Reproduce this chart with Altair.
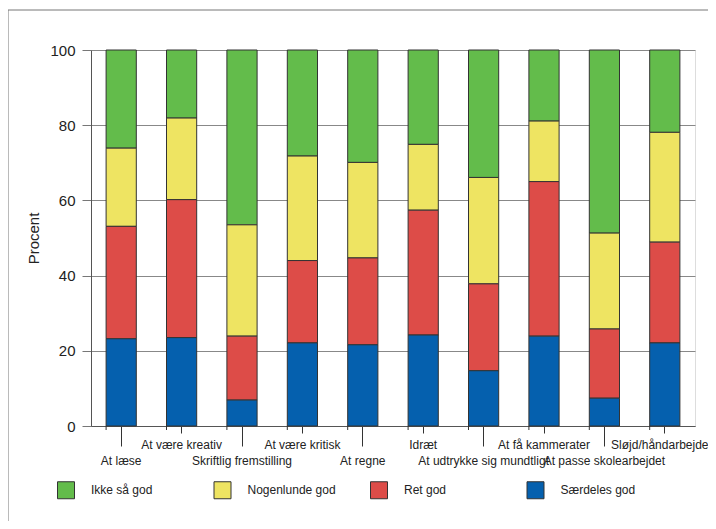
import altair as alt
import pandas as pd

categories = ["At læse", "At være kreativ", "Skriftlig fremstilling", "At være kritisk",
              "At regne", "Idræt", "At udtrykke sig mundtligt", "At få kammerater",
              "At passe skolearbejdet", "Sløjd/håndarbejde"]
saerdeles_god = [23.2, 23.5, 6.9, 22.1, 21.6, 24.2, 14.7, 23.9, 7.4, 22.1]
ret_god = [29.9, 36.7, 17.0, 21.9, 23.1, 33.2, 23.1, 41.1, 18.4, 26.8]
nogenlunde_god = [20.8, 21.7, 29.6, 27.8, 25.4, 17.5, 28.3, 16.1, 25.5, 29.2]
ikke_saa_god = [26.1, 18.1, 46.5, 28.2, 29.9, 25.1, 33.9, 18.9, 48.7, 21.9]

series_names = ["Ikke så god", "Nogenlunde god", "Ret god", "Særdeles god"]
series_colors = ["#63BC4B", "#EEE462", "#DD4C48", "#0560AE"]
series_values = [ikke_saa_god, nogenlunde_god, ret_god, saerdeles_god]
stack_rank = [3, 2, 1, 0]

rows = []
for name, vals, rank in zip(series_names, series_values, stack_rank):
    for cat, v in zip(categories, vals):
        rows.append({"kategori": cat, "serie": name, "procent": v, "rank": rank})
df = pd.DataFrame(rows)

FONT = "Liberation Sans"
lower = categories[0::2]
lower_js = "[" + ",".join("'" + c + "'" for c in lower) + "]"
is_lower = f"indexof({lower_js}, datum.value) >= 0"
is_last = f"datum.value == '{categories[-1]}'"

x_enc = alt.X(
    "kategori:N", sort=categories, title=None,
    scale=alt.Scale(paddingInner=0.5, paddingOuter=0.25),
    axis=alt.Axis(
        labelAngle=0, labelOverlap=False, labelLimit=300, labelFontSize=12,
        labelFont=FONT, labelColor="#222", domainColor="#555", tickColor="#333",
        tickSize={"condition": {"test": is_lower, "value": 20}, "value": 7},
        labelPadding={"condition": {"test": is_lower, "value": 9}, "value": 6},
        labelOffset={"condition": {"test": is_last, "value": -5}, "value": 0},
        labelBaseline="top",
    ),
)

bars = alt.Chart(df).mark_bar(stroke="#333", strokeWidth=1).encode(
    x=x_enc,
    y=alt.Y("sum(procent):Q", stack="zero", title="Procent",
            scale=alt.Scale(domain=[0, 100], nice=False),
            axis=alt.Axis(values=[0, 20, 40, 60, 80, 100], tickSize=9, tickColor="#777",
                          labelFontSize=15, labelFont=FONT, labelColor="#222",
                          labelPadding=7, titleFontSize=15, titleFont=FONT,
                          titleFontWeight="normal", titleColor="#222", titlePadding=8,
                          gridColor="#888", gridWidth=1, domainColor="#555")),
    color=alt.Color("serie:N", sort=series_names,
                    scale=alt.Scale(domain=series_names, range=series_colors),
                    legend=alt.Legend(orient="none", legendX=-34, legendY=431, title=None,
                                      direction="horizontal", columns=4, gridAlign="all",
                                      symbolType="square", symbolSize=289,
                                      symbolStrokeColor="#333", symbolStrokeWidth=1,
                                      labelFontSize=12, labelFont=FONT, labelColor="#222",
                                      labelOffset=16, columnPadding=31.5)),
    order=alt.Order("rank:Q", sort="ascending"),
)

minor = alt.Chart(pd.DataFrame({"kategori": categories})).mark_rule(color="#333").encode(
    x=alt.X("kategori:N", sort=categories, bandPosition=0),
    y=alt.value(376), y2=alt.value(380),
)

frame_df = pd.DataFrame({"a": [0]})
frame_v = alt.Chart(frame_df).mark_rule(color="#777", strokeWidth=1).encode(
    x=alt.value(-83), y=alt.value(-40), y2=alt.value(490))
frame_h = alt.Chart(frame_df).mark_rule(color="#777", strokeWidth=1).encode(
    x=alt.value(-83), x2=alt.value(630), y=alt.value(-40))

chart = alt.layer(bars, minor, frame_v, frame_h).properties(
    width=604, height=376,
    autosize=alt.AutoSizeParams(type="none"),
    padding={"left": 83, "top": 42, "right": 13, "bottom": 95},
).configure_view(stroke=None).configure(background="white")

chart.save("out.html", embed_options={"renderer": "svg", "actions": False})
